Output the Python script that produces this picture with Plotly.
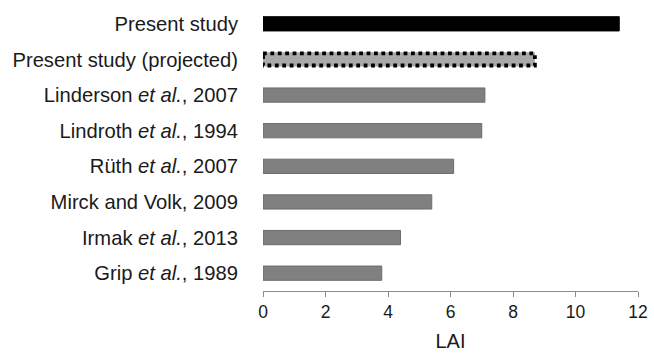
import plotly.graph_objects as go

# Leaf area index reported by each study (top to bottom)
studies = [
    "Present study",
    "Present study (projected)",
    "Linderson <i>et al.</i>, 2007",
    "Lindroth <i>et al.</i>, 1994",
    "Rüth <i>et al.</i>, 2007",
    "Mirck and Volk, 2009",
    "Irmak <i>et al.</i>, 2013",
    "Grip <i>et al.</i>, 1989",
]
lai = [11.4, 8.7, 7.1, 7.0, 6.1, 5.4, 4.4, 3.8]
x_ticks = [0, 2, 4, 6, 8, 10, 12]

BAR_W = 0.4
FONT = "Liberation Sans, Arial, sans-serif"
TEXT = "#1a1a1a"

fill = []
edge = []
for name in studies:
    if name == "Present study":
        fill.append("#000000"); edge.append("#000000")
    elif name == "Present study (projected)":
        fill.append("#a9a9a9"); edge.append("rgba(0,0,0,0)")
    else:
        fill.append("#808080"); edge.append("#6c6c6c")

fig = go.Figure(
    go.Bar(
        y=studies,
        x=lai,
        orientation="h",
        width=BAR_W,
        marker=dict(color=fill, line=dict(color=edge, width=1)),
        hoverinfo="x+y",
    )
)

# dotted outline around the projected bar
proj_i = studies.index("Present study (projected)")
fig.add_shape(
    type="rect",
    xref="x", yref="y",
    x0=0, x1=lai[proj_i],
    y0=proj_i - BAR_W / 2 + 0.03, y1=proj_i + BAR_W / 2 - 0.03,
    line=dict(color="#000000", width=3.8, dash="3.8px,3.6px"),
    fillcolor="rgba(0,0,0,0)",
    layer="above",
)

fig.update_layout(
    width=654,
    height=354,
    margin=dict(l=263, r=11, t=6, b=63),
    paper_bgcolor="white",
    plot_bgcolor="white",
    showlegend=False,
    font=dict(family=FONT, color=TEXT),
    bargap=0.6,
)

fig.update_yaxes(
    categoryorder="array",
    categoryarray=studies,
    autorange="reversed",
    showline=False,
    showgrid=False,
    zeroline=False,
    ticks="",
    ticklabelstandoff=24,
    tickfont=dict(size=20.2, family=FONT, color=TEXT),
)

fig.update_xaxes(
    range=[0, 12],
    tickvals=x_ticks,
    ticktext=[str(v) for v in x_ticks],
    showgrid=False,
    zeroline=False,
    showline=True,
    linecolor="#8c8c8c",
    linewidth=1,
    ticks="outside",
    ticklen=5,
    tickcolor="#8c8c8c",
    tickfont=dict(size=17.5, family=FONT, color=TEXT),
    title=dict(text="LAI", font=dict(size=20, family=FONT, color=TEXT), standoff=12),
)

fig.write_html("out.html")
